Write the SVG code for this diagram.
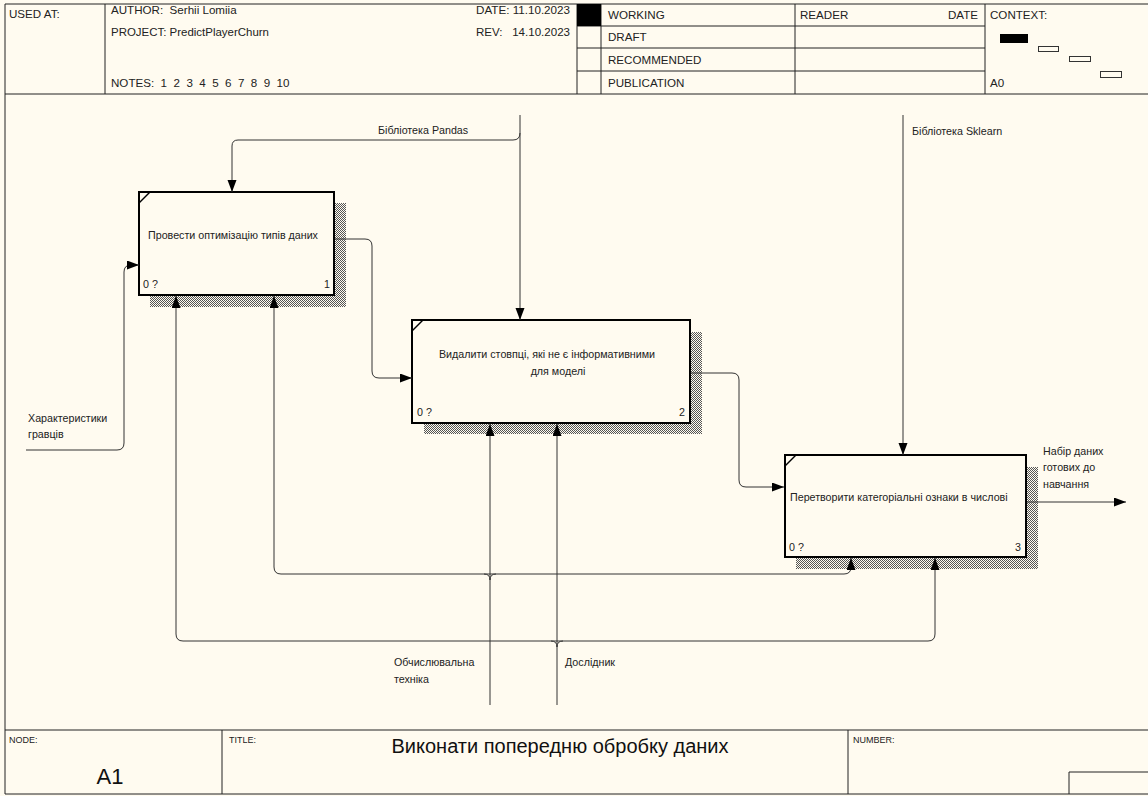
<svg xmlns="http://www.w3.org/2000/svg" width="1148" height="796" viewBox="0 0 1148 796">
<defs>
<pattern id="dots" width="2" height="2" patternUnits="userSpaceOnUse">
<rect width="2" height="2" fill="#fffbf0"/>
<rect width="1" height="1" fill="#555"/>
<rect x="1" y="1" width="1" height="1" fill="#555"/>
</pattern>
<marker id="arr" markerWidth="13" markerHeight="10" refX="12" refY="4.5" orient="auto" markerUnits="userSpaceOnUse">
<path d="M0,0 L12,4.5 L0,9 Z" fill="#000"/>
</marker>
<style>
.t{font-family:"Liberation Sans",Arial,sans-serif;font-size:11.6px;fill:#222}
.s{font-family:"Liberation Sans",Arial,sans-serif;font-size:9px;fill:#222}
.l{font-family:"Liberation Sans",Arial,sans-serif;font-size:10.7px;fill:#222}
.hl{stroke:#222;stroke-width:1;fill:none}
.c{stroke:#333;stroke-width:1;fill:none}
.box{fill:#fffbf0;stroke:#000;stroke-width:2}
.sh{fill:url(#dots)}
</style>
</defs>
<rect width="1148" height="796" fill="#fffbf0"/>

<g id="header">
<path class="hl" d="M5,4 H1148 M5,4 V794 M5,94 H1148 M105,4 V94 M577,4 V94 M601,4 V94 M795,4 V94 M985,4 V94 M577,26 H985 M577,48 H985 M577,71 H985"/>
<rect x="577" y="4" width="24" height="22" fill="#000"/>
<text class="t" x="9" y="18">USED AT:</text>
<text class="t" x="111" y="14" xml:space="preserve">AUTHOR:  Serhii Lomiia</text>
<text class="t" x="111" y="36" textLength="158" lengthAdjust="spacingAndGlyphs">PROJECT: PredictPlayerChurn</text>
<text class="t" x="111" y="87" xml:space="preserve">NOTES:  1  2  3  4  5  6  7  8  9  10</text>
<text class="t" x="476" y="14" textLength="94" lengthAdjust="spacingAndGlyphs">DATE: 11.10.2023</text>
<text class="t" x="476" y="36" xml:space="preserve" textLength="94" lengthAdjust="spacingAndGlyphs">REV:   14.10.2023</text>
<text class="t" x="608" y="19">WORKING</text>
<text class="t" x="608" y="41">DRAFT</text>
<text class="t" x="608" y="64">RECOMMENDED</text>
<text class="t" x="608" y="87">PUBLICATION</text>
<text class="t" x="800" y="19">READER</text>
<text class="t" x="948" y="19">DATE</text>
<text class="t" x="990" y="19">CONTEXT:</text>
<text class="t" x="990" y="87">A0</text>
<rect x="1000" y="34" width="28" height="9" fill="#000"/>
<rect x="1038.5" y="46.5" width="20" height="5" fill="none" stroke="#333"/>
<rect x="1069.5" y="56.5" width="21" height="5" fill="none" stroke="#333"/>
<rect x="1100.5" y="71.5" width="21" height="6" fill="none" stroke="#333"/>
</g>

<g id="footer">
<path class="hl" d="M5,730 H1148 M5,794 H1148 M222,730 V794 M848,730 V794 M1069,794 V772 H1148"/>
<text class="s" x="9" y="743">NODE:</text>
<text class="s" x="229" y="743">TITLE:</text>
<text class="s" x="853" y="743">NUMBER:</text>
<text x="110" y="784" text-anchor="middle" style="font-family:'Liberation Sans',Arial,sans-serif;font-size:22px;fill:#111">A1</text>
<text x="560" y="753" text-anchor="middle" style="font-family:'Liberation Sans',Arial,sans-serif;font-size:20px;fill:#111">Виконати попередню обробку даних</text>
</g>

<g id="node1">
<rect class="sh" x="150" y="203" width="196" height="104"/>
<rect class="box" x="139" y="192" width="195" height="103"/>
<path d="M139,203 L150,192" stroke="#000" stroke-width="1.5"/>
<text class="l" x="148" y="239">Провести оптимізацію типів даних</text>
<text class="l" x="143" y="288">0 ?</text>
<text class="l" x="324" y="288">1</text>
</g>

<g id="node2">
<rect class="sh" x="424" y="332" width="278" height="102"/>
<rect class="box" x="412" y="320" width="278" height="103"/>
<path d="M412,331 L423,320" stroke="#000" stroke-width="1.5"/>
<text class="l" x="547" y="358" text-anchor="middle">Видалити стовпці, які не є інформативними</text>
<text class="l" x="558" y="375" text-anchor="middle">для моделі</text>
<text class="l" x="417" y="416">0 ?</text>
<text class="l" x="679" y="416">2</text>
</g>

<g id="node3">
<rect class="sh" x="796" y="467" width="242" height="102"/>
<rect class="box" x="785" y="455" width="241" height="102"/>
<path d="M785,466 L796,455" stroke="#000" stroke-width="1.5"/>
<text class="l" x="790" y="501">Перетворити категоріальні ознаки в числові</text>
<text class="l" x="789" y="551">0 ?</text>
<text class="l" x="1015" y="551">3</text>
</g>

<g id="connectors">
<!-- Pandas -->
<path class="c" d="M520,115 V320" marker-end="url(#arr)"/>
<path class="c" d="M520,133 Q520,140 513,140 H238 Q232,140 232,146 V192" marker-end="url(#arr)"/>
<text class="l" x="378" y="134">Бібліотека Pandas</text>
<!-- Sklearn -->
<path class="c" d="M903,115 V455" marker-end="url(#arr)"/>
<text class="l" x="912" y="135">Бібліотека Sklearn</text>
<!-- input -->
<path class="c" d="M26,450 H117 Q124,450 124,443 V272 Q124,265 131,265 H139" marker-end="url(#arr)"/>
<text class="l" x="28" y="422">Характеристики</text>
<text class="l" x="28" y="438">гравців</text>
<!-- 1 -> 2 -->
<path class="c" d="M335,239 H365 Q372,239 372,246 V371 Q372,378 379,378 H412" marker-end="url(#arr)"/>
<!-- 2 -> 3 -->
<path class="c" d="M691,373 H732 Q739,373 739,380 V480 Q739,487 746,487 H784" marker-end="url(#arr)"/>
<!-- output -->
<path class="c" d="M1027,502 H1126" marker-end="url(#arr)"/>
<text class="l" x="1043" y="455">Набір даних</text>
<text class="l" x="1043" y="471">готових до</text>
<text class="l" x="1043" y="488">навчання</text>
<!-- mechanism 1 -->
<path class="c" d="M490,705 V424" marker-end="url(#arr)"/>
<path class="c" d="M484,574 Q490,574 490,580 M496,574 Q490,574 490,580"/>
<path class="c" d="M490,574 H281 Q274,574 274,567 V296" marker-end="url(#arr)"/>
<path class="c" d="M490,574 H844 Q851,574 851,567 V558" marker-end="url(#arr)"/>
<text class="l" x="394" y="666">Обчислювальна</text>
<text class="l" x="394" y="683">техніка</text>
<!-- mechanism 2 -->
<path class="c" d="M557,705 V424" marker-end="url(#arr)"/>
<path class="c" d="M551,641 Q557,641 557,647 M563,641 Q557,641 557,647"/>
<path class="c" d="M557,641 H183 Q176,641 176,634 V296" marker-end="url(#arr)"/>
<path class="c" d="M557,641 H928 Q935,641 935,634 V558" marker-end="url(#arr)"/>
<text class="l" x="565" y="666">Дослідник</text>
</g>
</svg>
